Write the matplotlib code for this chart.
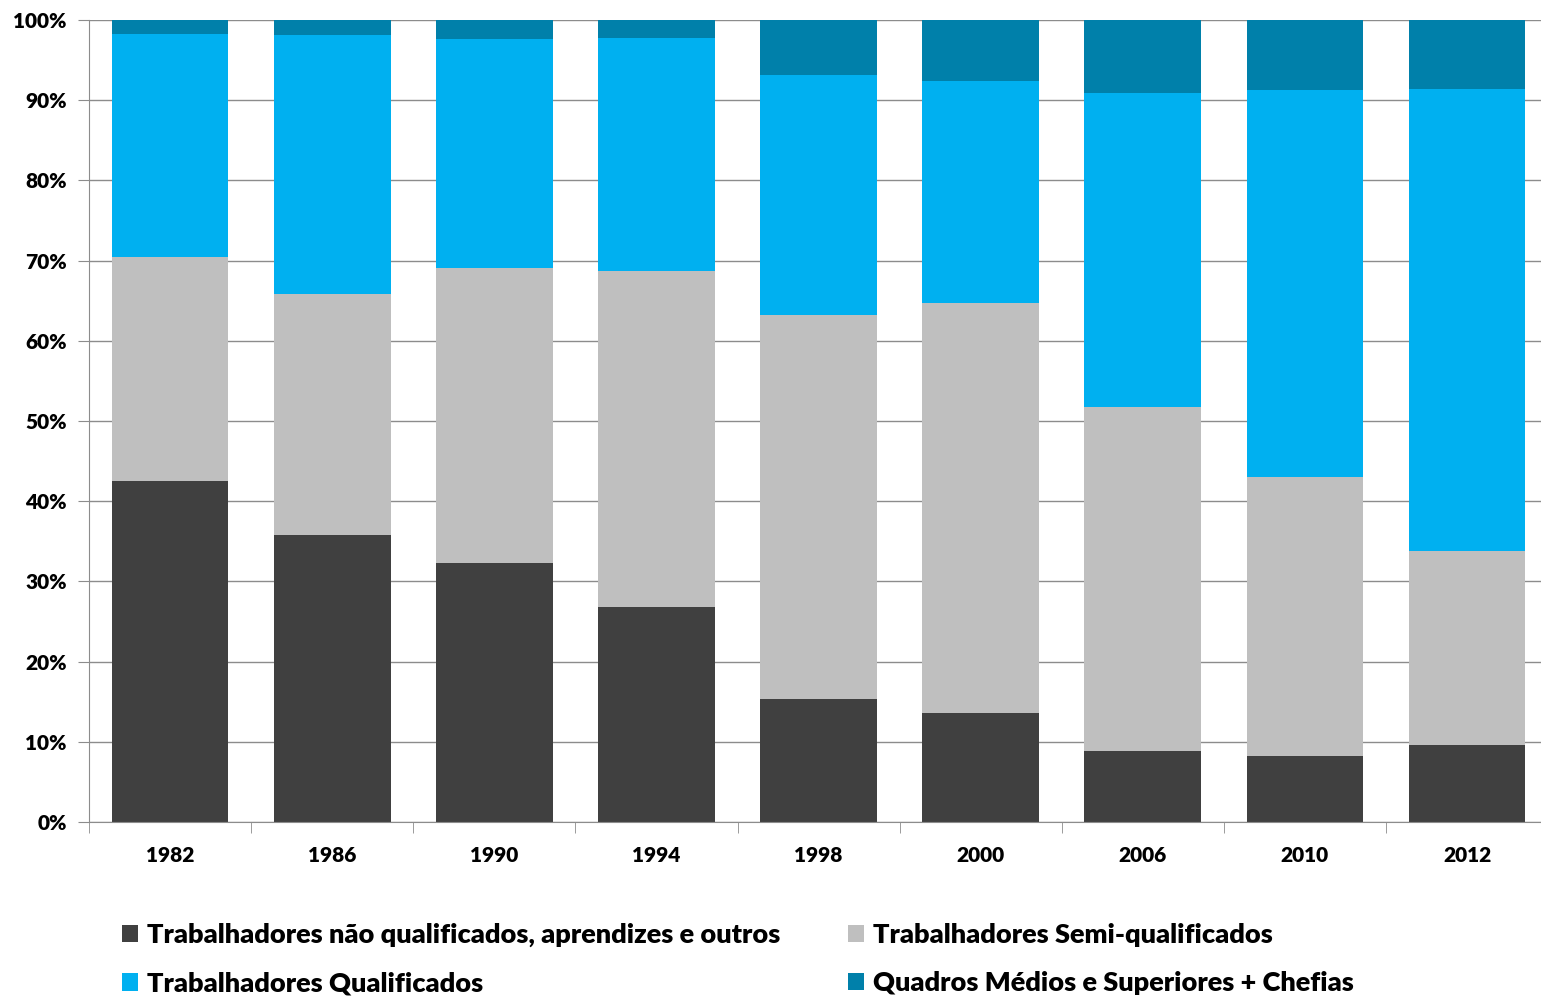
import matplotlib.pyplot as plt
import numpy as np
from matplotlib.patches import Patch

plt.rcParams['font.family'] = ['Lato', 'DejaVu Sans']
plt.rcParams['font.weight'] = 'heavy'

years = ["1982", "1986", "1990", "1994", "1998", "2000", "2006", "2010", "2012"]
nao_qualificados = [42.5, 35.8, 32.3, 26.8, 15.3, 13.6, 8.9, 8.2, 9.6]
semi_qualificados = [27.9, 30.0, 36.8, 41.9, 47.9, 51.1, 42.8, 34.8, 24.2]
qualificados = [27.9, 32.3, 28.5, 29.1, 29.9, 27.7, 39.2, 48.3, 57.6]
quadros = [1.7, 1.9, 2.4, 2.2, 6.9, 7.6, 9.1, 8.7, 8.6]

labels = ["Trabalhadores não qualificados, aprendizes e outros",
          "Trabalhadores Semi-qualificados",
          "Trabalhadores Qualificados",
          "Quadros Médios e Superiores + Chefias"]
colors = ["#404040", "#BFBFBF", "#00B0F0", "#0080AA"]

fig = plt.figure(figsize=(15.41, 9.99), dpi=100)
ax = fig.add_axes([0.0578, 0.1772, 0.9468, 0.8028])

x = np.arange(len(years))
series = [nao_qualificados, semi_qualificados, qualificados, quadros]
bottom = np.zeros(len(years))
for vals, c in zip(series, colors):
    ax.bar(x, vals, 0.72, bottom=bottom, color=c, zorder=2)
    bottom += np.array(vals)

ax.set_xlim(-0.5, len(years) - 0.5)
ax.set_ylim(0, 100)
ax.set_yticks(np.arange(0, 101, 10))
ax.set_yticklabels([f"{v}%" for v in range(0, 101, 10)], fontsize=15, fontweight='heavy')
ax.yaxis.grid(True, color='#8C8C8C', lw=1, zorder=0)

ax.set_xticks(x)
ax.set_xticklabels(years, fontsize=15, fontweight='heavy')
ax.tick_params(axis='x', length=0, pad=17)
ax.set_xticks(np.arange(-0.5, len(years), 1), minor=True)
ax.tick_params(axis='x', which='minor', length=8, color='#8C8C8C')
ax.tick_params(axis='y', length=8, color='#8C8C8C', pad=8)

for s in ['top', 'right']:
    ax.spines[s].set_visible(False)
ax.spines['left'].set_color('#8C8C8C')
ax.spines['bottom'].set_color('#8C8C8C')

order = [0, 2, 1, 3]
handles = [Patch(facecolor=colors[i], label=labels[i]) for i in order]
fig.legend(handles=handles, ncol=2, loc='lower left', bbox_to_anchor=(0.0635, -0.021),
           frameon=False, prop={'size': 19.5, 'weight': 'heavy'},
           handlelength=0.6, handleheight=0.6, handletextpad=0.3,
           columnspacing=2.52, labelspacing=0.9)

fig.savefig("out.png", dpi=100)
